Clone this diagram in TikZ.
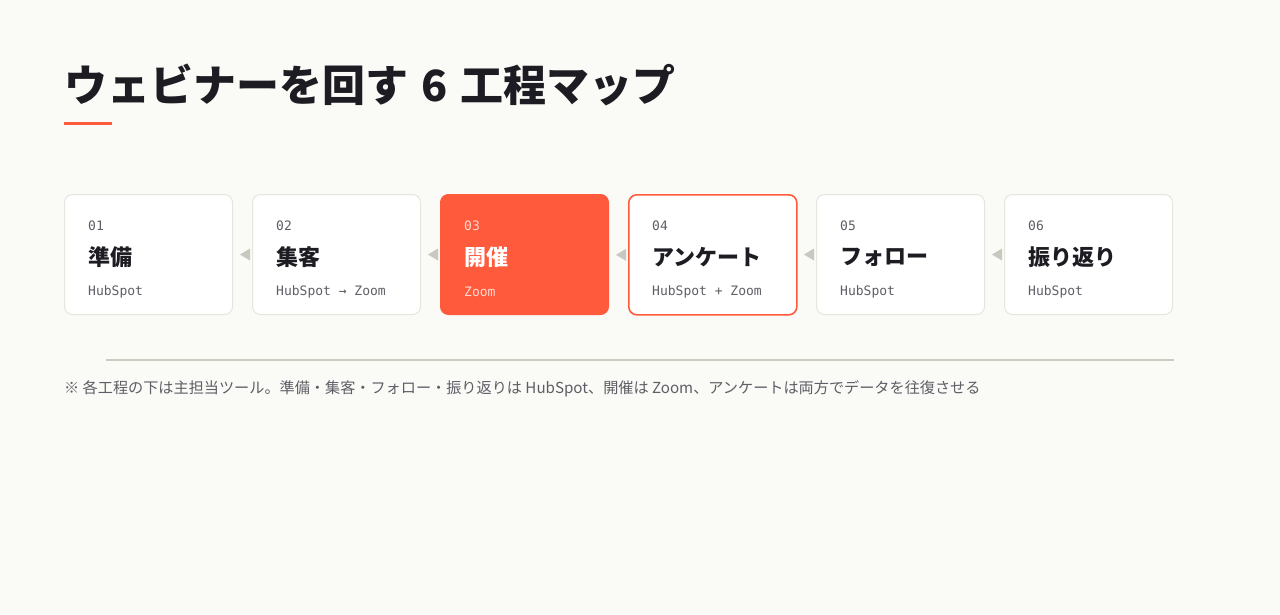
\documentclass[tikz,border=0pt]{standalone}
\usepackage{fontspec}
\setmainfont{Noto Sans CJK JP}
\newfontfamily\jp{Noto Sans CJK JP}
\newfontfamily\jpheavy{Noto Sans CJK JP Black}
\newfontfamily\mono{DejaVu Sans Mono}
\usetikzlibrary{positioning}
\definecolor{bg}{HTML}{FAFAF6}
\definecolor{accent}{HTML}{FF5A3C}
\definecolor{ink}{HTML}{1C1C22}
\definecolor{muted}{HTML}{5E5E66}
\definecolor{edge}{HTML}{E6E6DF}
\definecolor{tri}{HTML}{C8C8C0}
\definecolor{rule}{HTML}{CCCBC0}
\definecolor{softwhite}{HTML}{FFD9D0}
\begin{document}
\begin{tikzpicture}[x=1pt,y=-1pt,
  stepbox/.style={draw=edge,line width=1pt,fill=white,rounded corners=8pt,minimum width=168pt,minimum height=120pt,anchor=north west,inner sep=0pt},
  hotbox/.style={stepbox,draw=accent,fill=accent},
  ringbox/.style={stepbox,draw=accent,line width=1.6pt},
  numtxt/.style={anchor=west,font=\mono\fontsize{13}{13}\selectfont,inner sep=0pt},
  headtxt/.style={anchor=west,font=\jp\bfseries\fontsize{22}{22}\selectfont,inner sep=0pt},
  tooltxt/.style={anchor=west,font=\mono\fontsize{13}{13}\selectfont,inner sep=0pt},
  tip/.style={fill=tri}
]
\fill[bg] (0,0) rectangle (1280,614);
\node[anchor=base west,inner sep=0pt,text=ink,font=\jpheavy\fontsize{43}{43}\selectfont] (title) at (64,101) {ウェビナーを回す\hspace{13pt}6\hspace{13pt}工程マップ};
\fill[accent] (64,122) rectangle (112,125);

\foreach \i/\x/\n/\h/\t/\s/\cn/\ch/\ct in {
  1/64/01/準備/HubSpot/stepbox/muted/ink/muted,
  2/252/02/集客/HubSpot → Zoom/stepbox/muted/ink/muted,
  3/440/03/開催/Zoom/hotbox/softwhite/white/softwhite,
  4/628/04/アンケート/HubSpot + Zoom/ringbox/muted/ink/muted,
  5/816/05/フォロー/HubSpot/stepbox/muted/ink/muted,
  6/1004/06/振り返り/HubSpot/stepbox/muted/ink/muted}{
  \node[\s] (b\i) at (\x,194) {};
  \node[numtxt,text=\cn] (n\i) at (\x+24,225.5) {\n};
  \node[headtxt,text=\ch] (h\i) at (\x+24,257.5) {\h};
  \node[tooltxt,text=\ct] (t\i) at (\x+24,291.5) {\t};
}

\foreach \a/\b in {1/2,2/3,3/4,4/5,5/6}{
  \fill[tip] ([xshift=-2pt]b\b.west) -- ++(0,-6) -- ++(-10,6) -- ++(10,6) -- cycle;
}

\coordinate (r1) at (106,360);
\coordinate (r2) at (1174,360);
\draw[rule,line width=2pt] (r1) -- (r2);
\node[anchor=base west,inner sep=0pt,text=muted,font=\jp\fontsize{15.15}{15.15}\selectfont] (note) at (64,393) {※ 各工程の下は主担当ツール。準備・集客・フォロー・振り返りは HubSpot、開催は Zoom、アンケートは両方でデータを往復させる};
\end{tikzpicture}
\end{document}
